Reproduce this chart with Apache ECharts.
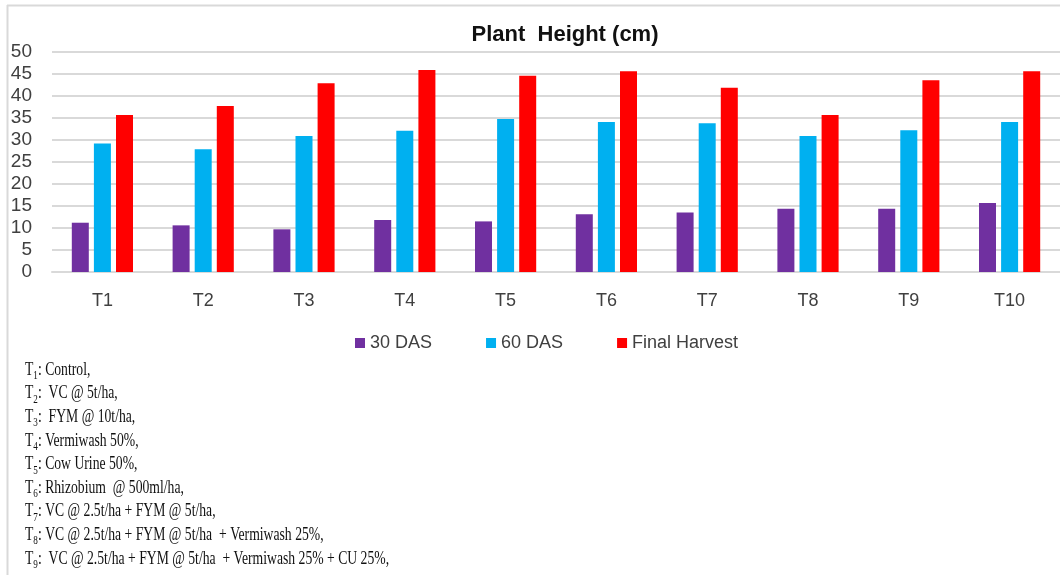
<!DOCTYPE html>
<html>
<head>
<meta charset="utf-8">
<script src="https://cdn.jsdelivr.net/npm/echarts@6/dist/echarts.min.js"></script>
<style>
  html, body { margin: 0; padding: 0; background: #fff; }
  #chart { width: 1060px; height: 575px; }
</style>
</head>
<body>
<div id="chart"></div>
<script>
// Treatments on the x axis
const treatments = ['T1', 'T2', 'T3', 'T4', 'T5', 'T6', 'T7', 'T8', 'T9', 'T10'];

// Plant height (cm) at each stage
const das30 = [11.2, 10.6, 9.7, 11.8, 11.5, 13.1, 13.5, 14.4, 14.4, 15.7];
const das60 = [29.2, 27.9, 30.9, 32.1, 34.8, 34.1, 33.8, 30.9, 32.2, 34.1];
const finalHarvest = [35.7, 37.7, 42.9, 45.9, 44.6, 45.6, 41.9, 35.7, 43.6, 45.6];

const seriesNames = ['30 DAS', '60 DAS', 'Final Harvest'];

// Treatment key printed under the chart: [number, description]
const treatmentKey = [
  ['1', ': Control,'],
  ['2', ':  VC @ 5t/ha,'],
  ['3', ':  FYM @ 10t/ha,'],
  ['4', ': Vermiwash 50%,'],
  ['5', ': Cow Urine 50%,'],
  ['6', ': Rhizobium  @ 500ml/ha,'],
  ['7', ': VC @ 2.5t/ha + FYM @ 5t/ha,'],
  ['8', ': VC @ 2.5t/ha + FYM @ 5t/ha  + Vermiwash 25%,'],
  ['9', ':  VC @ 2.5t/ha + FYM @ 5t/ha  + Vermiwash 25% + CU 25%,']
];

const chart = echarts.init(document.getElementById('chart'), null, { renderer: 'canvas' });

const sansFont = '"Liberation Sans Narrow", "Liberation Sans", sans-serif';
const serifFont = '"Liberation Serif", "DejaVu Serif", serif';

const keyLines = treatmentKey.map(function (row, i) {
  return {
    type: 'text',
    x: 25,
    y: 357 + i * 23.6,
    scaleX: 0.76,
    style: {
      text: '{t|T}{s|' + row[0] + '}{t|' + row[1] + '}',
      rich: {
        t: { fontFamily: serifFont, fontSize: 18, fill: '#111', lineHeight: 22, verticalAlign: 'bottom' },
        s: { fontFamily: serifFont, fontSize: 12, fill: '#111', lineHeight: 22, verticalAlign: 'bottom', padding: [0, 0, -3, 0] }
      }
    },
    silent: true
  };
});

const option = {
  animation: false,
  backgroundColor: '#ffffff',
  title: {
    text: 'Plant  Height (cm)',
    left: 560,
    top: 19,
    textAlign: 'center',
    textStyle: { fontFamily: sansFont, fontWeight: 'bold', fontSize: 22, color: '#111' }
  },
  legend: {
    data: seriesNames,
    left: 350,
    top: 329,
    itemWidth: 10,
    itemHeight: 10,
    itemGap: 54,
    icon: 'rect',
    textStyle: { fontFamily: sansFont, fontSize: 18, color: '#404040' }
  },
  grid: { left: 52, right: -2, top: 52, bottom: 303, containLabel: false },
  xAxis: {
    type: 'category',
    data: treatments,
    axisLine: { show: true, lineStyle: { color: '#d9d9d9', width: 2 } },
    axisTick: { show: false },
    axisLabel: { fontFamily: sansFont, fontSize: 18, color: '#404040', margin: 20 }
  },
  yAxis: {
    type: 'value',
    min: 0,
    max: 50,
    interval: 5,
    axisLine: { show: false },
    axisTick: { show: false },
    axisLabel: { fontFamily: sansFont, fontSize: 19, color: '#404040', margin: 20 },
    splitLine: { lineStyle: { color: '#d9d9d9', width: 2 } }
  },
  series: [
    { name: seriesNames[0], type: 'bar', data: das30, barWidth: 17, barGap: '30%',
      itemStyle: { color: '#7030A0' } },
    { name: seriesNames[1], type: 'bar', data: das60, barWidth: 17, barGap: '30%',
      itemStyle: { color: '#00B0F0' } },
    { name: seriesNames[2], type: 'bar', data: finalHarvest, barWidth: 17, barGap: '30%',
      itemStyle: { color: '#FF0000' } }
  ],
  graphic: [
    // outer frame edges
    { type: 'line', shape: { x1: 7, y1: 5.5, x2: 1060, y2: 5.5 }, style: { stroke: '#d9d9d9', lineWidth: 2 }, silent: true },
    { type: 'line', shape: { x1: 7.5, y1: 5, x2: 7.5, y2: 575 }, style: { stroke: '#d9d9d9', lineWidth: 2 }, silent: true }
  ].concat(keyLines)
};

chart.setOption(option);
</script>
</body>
</html>
